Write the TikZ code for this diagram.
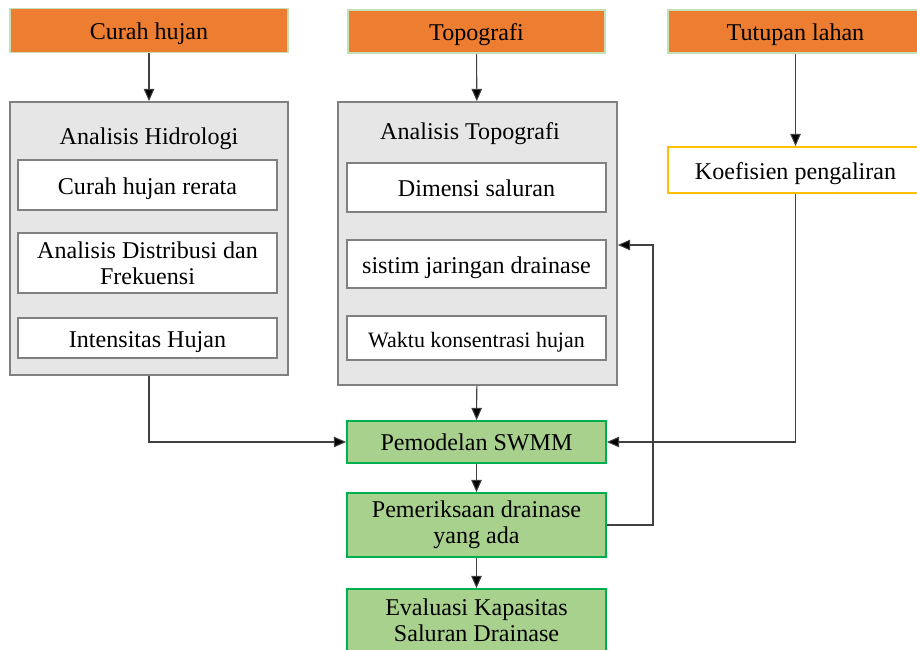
\documentclass[tikz,border=0pt]{standalone}
\usepackage{fontspec}
\setmainfont{LiberationSerif}[Extension=.ttf, UprightFont=*-Regular, BoldFont=*-Bold]
\usetikzlibrary{positioning}
\usetikzlibrary{arrows.meta}
\definecolor{orange}{RGB}{237,125,49}
\definecolor{paleg}{RGB}{197,224,180}
\definecolor{lgray}{RGB}{231,230,230}
\definecolor{mgray}{RGB}{128,128,128}
\definecolor{green}{RGB}{169,209,142}
\definecolor{dgreen}{RGB}{0,176,80}
\definecolor{gold}{RGB}{255,192,0}
\definecolor{line}{RGB}{64,64,64}

\tikzset{
    low/.style={text height=1.15em, text depth=0.1em, inner ysep=0pt},
    input/.style={low, draw=paleg, line width=1pt, fill=orange, minimum width=5.56cm, minimum height=0.88cm},
    group/.style={draw=mgray, line width=1pt, fill=lgray, minimum width=5.56cm},
    item/.style={draw=mgray, line width=1pt, fill=white, minimum width=5.18cm, align=center},
    model/.style={draw=dgreen, line width=1pt, fill=green, minimum width=5.18cm, align=center},
    flow/.style={-{Triangle[length=7pt, width=6pt, fill=black]}, line width=0.6pt, draw=line},
}

\begin{document}
\begin{tikzpicture}[font=\rmfamily\fontsize{13.7}{15}\selectfont]
    \useasboundingbox (0,0) rectangle (18.34,-13);

    % Inputs
    \node[input] (curah) at (2.98, -0.61) {Curah hujan};
    \node[input, minimum width=5.14cm, minimum height=0.86cm] (topo) at (9.53, -0.63) {Topografi};
    \node[input, minimum width=5.1cm, minimum height=0.86cm] (tutup) at (15.91, -0.63) {Tutupan lahan};

    % Analisis Hidrologi
    \node[group, minimum height=5.46cm] (hidro) at (2.98, -4.77) {};
    \node (hidrot) at (2.98, -2.78) {Analisis Hidrologi};
    \node[item, low, minimum height=1.0cm] (rerata) at (2.95, -3.7) {Curah hujan rerata};
    \node[item, minimum height=1.2cm] (distr) at (2.95, -5.26) {Analisis Distribusi dan\\Frekuensi};
    \node[item, low, minimum height=0.8cm] (inten) at (2.95, -6.76) {Intensitas Hujan};

    % Analisis Topografi
    \node[group, minimum width=5.58cm, minimum height=5.66cm] (atopo) at (9.55, -4.87) {};
    \node (atopot) at (9.4, -2.68) {Analisis Topografi};
    \node[item, low, minimum height=0.98cm] (dimensi) at (9.53, -3.75) {Dimensi saluran};
    \node[item, low, minimum height=0.96cm] (jaring) at (9.53, -5.28) {sistim jaringan drainase};
    \node[item, low, minimum height=0.88cm, font=\rmfamily\fontsize{12.5}{14}\selectfont] (waktu) at (9.53, -6.76) {Waktu konsentrasi hujan};

    % Tutupan lahan
    \node[low, draw=gold, line width=1pt, fill=white, minimum width=5.1cm, minimum height=0.92cm] (koef) at (15.91, -3.4) {Koefisien pengaliran};

    % Model and checks
    \node[model, minimum height=0.84cm] (swmm) at (9.53, -8.84) {Pemodelan SWMM};
    \node[model, minimum height=1.28cm] (periksa) at (9.53, -10.5) {Pemeriksaan drainase\\yang ada};
    \node[model, minimum height=1.24cm] (eval) at (9.53, -12.4) {Evaluasi Kapasitas\\Saluran Drainase};
    \coordinate (back) at (13.06, -4.9);

    \draw[flow] (curah) -- (hidro);
    \draw[flow] (topo) -- (atopo);
    \draw[flow] (tutup.south -| koef) -- (koef);
    \draw[flow] (hidro.south) |- (swmm.west);
    \draw[flow] (atopo) -- (swmm);
    \draw[flow] (koef.south) |- (swmm.east);
    \draw[flow] (swmm) -- (periksa);
    \draw[flow] (periksa) -- (eval);

    % Feedback to topography
    \draw[flow] (periksa.east) -| (back) -- (back -| atopo.east);
\end{tikzpicture}
\end{document}
